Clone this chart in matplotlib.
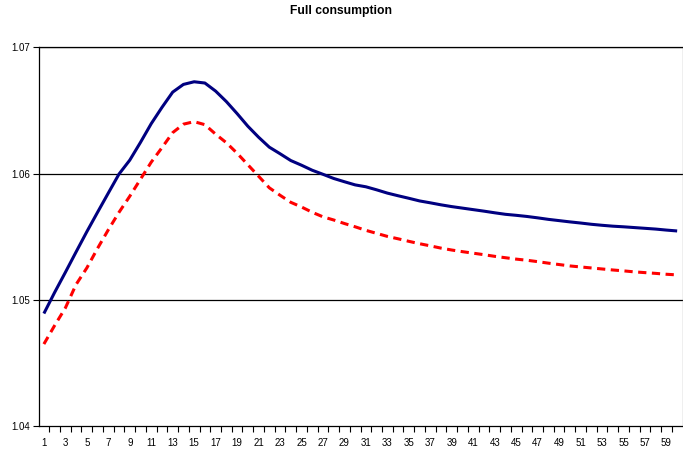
import numpy as np
import matplotlib
matplotlib.use("Agg")
import matplotlib.pyplot as plt

# periods 1..60
periods = list(range(1, 61))

# solid series (navy)
full_a = [1.04891, 1.05058, 1.05217, 1.05379, 1.05539, 1.05693, 1.05845, 1.05996, 1.06106, 1.06247,
          1.06395, 1.06524, 1.06645, 1.06706, 1.06727, 1.06717, 1.06653, 1.06570, 1.06475, 1.06375,
          1.06288, 1.06209, 1.06157, 1.06103, 1.06066, 1.06026, 1.05994, 1.05961, 1.05935, 1.05910,
          1.05895, 1.05871, 1.05845, 1.05824, 1.05804, 1.05783, 1.05768, 1.05752, 1.05738, 1.05726,
          1.05714, 1.05702, 1.05689, 1.05677, 1.05669, 1.05660, 1.05649, 1.05637, 1.05627, 1.05617,
          1.05608, 1.05598, 1.05590, 1.05583, 1.05578, 1.05572, 1.05566, 1.05560, 1.05552, 1.05545]

# dashed series (red)
full_b = [1.04649, 1.04796, 1.04935, 1.05121, 1.05252, 1.05407, 1.05554, 1.05693, 1.05820, 1.05955,
          1.06090, 1.06205, 1.06324, 1.06391, 1.06411, 1.06387, 1.06312, 1.06244, 1.06161, 1.06070,
          1.05979, 1.05887, 1.05828, 1.05772, 1.05735, 1.05693, 1.05657, 1.05632, 1.05604, 1.05578,
          1.05550, 1.05526, 1.05502, 1.05483, 1.05463, 1.05444, 1.05427, 1.05409, 1.05394, 1.05381,
          1.05369, 1.05357, 1.05344, 1.05333, 1.05322, 1.05313, 1.05302, 1.05290, 1.05279, 1.05268,
          1.05260, 1.05252, 1.05244, 1.05236, 1.05229, 1.05221, 1.05215, 1.05209, 1.05202, 1.05197]

y_ticks = [1.04, 1.05, 1.06, 1.07]

plt.rcParams['font.family'] = ['Liberation Sans', 'DejaVu Sans']

fig = plt.figure(figsize=(6.83, 4.54), dpi=100)
ax = fig.add_axes([0.0564, 0.0617, 0.9429, 0.8341])

ax.plot(periods, full_a, color="#000080", lw=2.2, solid_capstyle="butt", zorder=3)
ax.plot(periods, full_b, color="#FF0000", lw=2.2, dashes=(2.7, 1.8), zorder=3)

ax.set_xlim(0.5, 60.5)
ax.set_ylim(1.04, 1.07)

# y axis
ax.set_yticks(y_ticks)
ax.set_yticklabels([f"{v:.2f}" for v in y_ticks])
for v in y_ticks[1:]:
    ax.axhline(v, color="black", lw=0.9, zorder=1)

# x axis: ticks between categories, labels on odd categories
ax.set_xticks(np.arange(1.5, 60.5, 1.0))
ax.set_xticklabels([])
ax.set_xticks(periods[::2], minor=True)
ax.set_xticklabels([str(p) for p in periods[::2]], minor=True)
ax.tick_params(axis="x", which="major", direction="out", length=4, width=0.8)
ax.tick_params(axis="x", which="minor", length=0, pad=9, labelsize=7)
ax.tick_params(axis="y", direction="out", length=4, width=0.8, labelsize=7, pad=2)

for s in ["left", "bottom", "top"]:
    ax.spines[s].set_color("black")
    ax.spines[s].set_linewidth(0.9)
ax.spines["right"].set_color("#808080")
ax.spines["right"].set_linewidth(0.9)

fig.text(0.5, 1 - 11 / 454, "Full consumption", ha="center", va="center",
         fontsize=8.7, fontweight="bold")

fig.savefig("out.png", dpi=100)
